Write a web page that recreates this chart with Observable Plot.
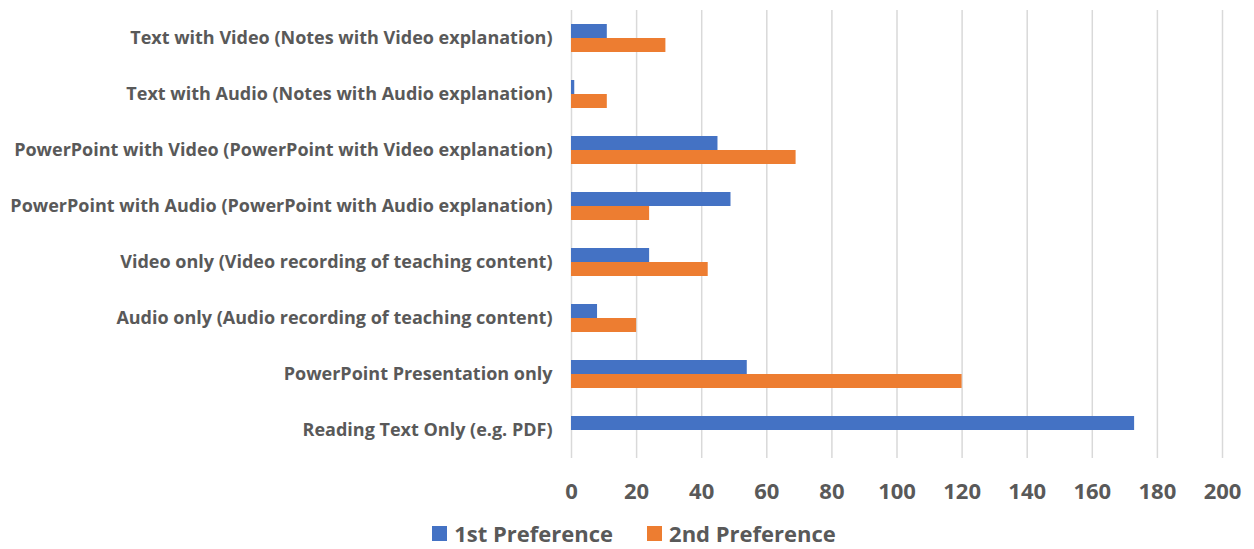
<!DOCTYPE html>
<html><head><meta charset="utf-8">
<script src="https://cdn.jsdelivr.net/npm/d3@7"></script>
<script src="https://cdn.jsdelivr.net/npm/@observablehq/plot@0.6"></script>
<style>
body{margin:0;background:#fff;font-family:"Open Sans",sans-serif;width:1254px;overflow:hidden;}
#legend{display:flex;justify-content:center;align-items:center;gap:34px;padding-top:7px;padding-left:14px;font-size:22px;line-height:26px;height:26px;font-weight:bold;color:#595959;}
#legend .item{display:flex;align-items:center;gap:7px;}
#legend .sw{width:15px;height:15px;display:inline-block;}
</style></head><body>
<div id="chart"></div>
<div id="legend"></div>
<script>
const categories = [
  "Text with Video (Notes with Video explanation)",
  "Text with Audio (Notes with Audio explanation)",
  "PowerPoint with Video (PowerPoint with Video explanation)",
  "PowerPoint with Audio (PowerPoint with Audio explanation)",
  "Video only (Video recording of teaching content)",
  "Audio only (Audio recording of teaching content)",
  "PowerPoint Presentation only",
  "Reading Text Only (e.g. PDF)"
];
const series = ["1st Preference", "2nd Preference"];
const first = [11, 1, 45, 49, 24, 8, 54, 173];
const second = [29, 11, 69, 24, 42, 20, 120, 0];
const xTicks = [0, 20, 40, 60, 80, 100, 120, 140, 160, 180, 200];
const colors = ["#4472C4", "#ED7D31"];

const data = categories.flatMap((c, i) => [
  {category: c, series: series[0], value: first[i]},
  {category: c, series: series[1], value: second[i]}
]);

const chart = Plot.plot({
  width: 1254, height: 513,
  marginLeft: 571, marginRight: 32, marginTop: 7, marginBottom: 53,
  style: {fontFamily: "'Open Sans', sans-serif", background: "#fff"},
  x: {domain: [0, 200], ticks: xTicks},
  fy: {domain: categories, padding: 0, label: null},
  y: {domain: series, axis: null, paddingInner: 0, paddingOuter: 0.887},
  color: {domain: series, range: colors},
  marks: [
    Plot.gridX(xTicks, {stroke: "#d9d9d9", strokeOpacity: 1, strokeWidth: 1.5}),
    Plot.barX(data, {fy: "category", y: "series", x: "value", fill: "series"}),
    Plot.axisX(xTicks, {tickSize: 0, tickPadding: 25, fontSize: 22, fontWeight: "bold", color: "#595959", label: null}),
    Plot.axisFy({anchor: "left", tickSize: 0, tickPadding: 19, fontSize: 18, fontWeight: "bold", color: "#595959", label: null})
  ]
});
document.getElementById("chart").appendChild(chart);

const legend = document.getElementById("legend");
series.forEach((s, i) => {
  const item = document.createElement("span");
  item.className = "item";
  const sw = document.createElement("span");
  sw.className = "sw";
  sw.style.background = colors[i];
  const t = document.createElement("span");
  t.textContent = s;
  item.appendChild(sw);
  item.appendChild(t);
  legend.appendChild(item);
});
</script>
</body></html>
